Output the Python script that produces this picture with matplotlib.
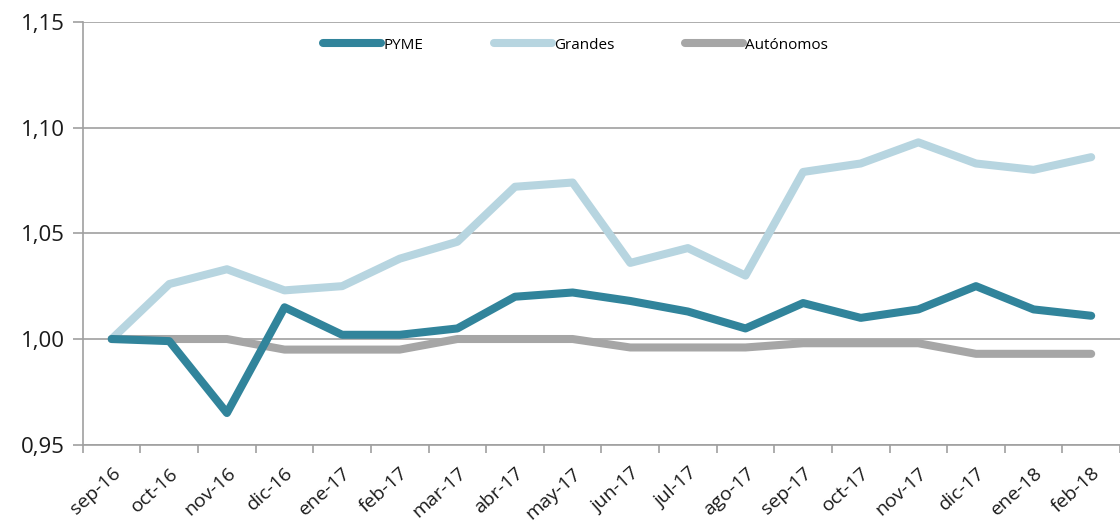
import numpy as np
import matplotlib
matplotlib.use('Agg')
import matplotlib.pyplot as plt

plt.rcParams['font.family'] = ['Open Sans', 'DejaVu Sans']

# Data
meses = ['sep-16', 'oct-16', 'nov-16', 'dic-16', 'ene-17', 'feb-17', 'mar-17',
         'abr-17', 'may-17', 'jun-17', 'jul-17', 'ago-17', 'sep-17', 'oct-17',
         'nov-17', 'dic-17', 'ene-18', 'feb-18']
pyme = [1.000, 0.999, 0.965, 1.015, 1.002, 1.002, 1.005, 1.020, 1.022, 1.018,
        1.013, 1.005, 1.017, 1.010, 1.014, 1.025, 1.014, 1.011]
grandes = [1.000, 1.026, 1.033, 1.023, 1.025, 1.038, 1.046, 1.072, 1.074, 1.036,
           1.043, 1.030, 1.079, 1.083, 1.093, 1.083, 1.080, 1.086]
autonomos = [1.000, 1.000, 1.000, 0.995, 0.995, 0.995, 1.000, 1.000, 1.000, 0.996,
             0.996, 0.996, 0.998, 0.998, 0.998, 0.993, 0.993, 0.993]
y_ticks = [0.95, 1.00, 1.05, 1.10, 1.15]

fig = plt.figure(figsize=(11.2, 5.32), dpi=100)
ax = fig.add_axes([0.074, 0.164, 0.926, 0.795])

x = np.arange(len(meses))
lw = 5.8
ax.plot(x, grandes, color='#B7D5E0', lw=lw, solid_capstyle='round', label='Grandes', zorder=3)
ax.plot(x, autonomos, color='#A6A6A6', lw=lw, solid_capstyle='round', label='Autónomos', zorder=3)
ax.plot(x, pyme, color='#31849B', lw=lw, solid_capstyle='round', label='PYME', zorder=4)

ax.set_xlim(-0.5, len(meses) - 0.5)
ax.set_ylim(0.95, 1.15)
ax.set_yticks(y_ticks)
ax.set_yticklabels([f'{v:.2f}'.replace('.', ',') for v in y_ticks], fontsize=16, color='#1a1a1a')
ax.yaxis.grid(True, color='#A0A0A0', lw=1.2)
ax.set_axisbelow(True)

ax.set_xticks(x)
ax.set_xticklabels(meses, rotation=42, ha='right', rotation_mode='anchor',
                   fontsize=14, color='#1a1a1a')
ax.set_xticks(np.arange(len(meses) + 1) - 0.5, minor=True)
ax.tick_params(axis='x', which='major', length=0, pad=14)
ax.tick_params(axis='x', which='minor', length=6, color='#A0A0A0', width=1.2)
ax.tick_params(axis='y', length=7, color='#A0A0A0', width=1.2, pad=6)

for s in ['top', 'right']:
    ax.spines[s].set_visible(False)
for s in ['left', 'bottom']:
    ax.spines[s].set_color('#A0A0A0')
    ax.spines[s].set_linewidth(1.2)

h, l = ax.get_legend_handles_labels()
order = [2, 0, 1]
ax.legend([h[i] for i in order], [l[i] for i in order], loc='upper center',
          bbox_to_anchor=(0.475, 0.995), ncol=3, frameon=False, fontsize=11,
          handlelength=3.8, handletextpad=0.15, columnspacing=4.6)

fig.savefig('out.png', dpi=100)
